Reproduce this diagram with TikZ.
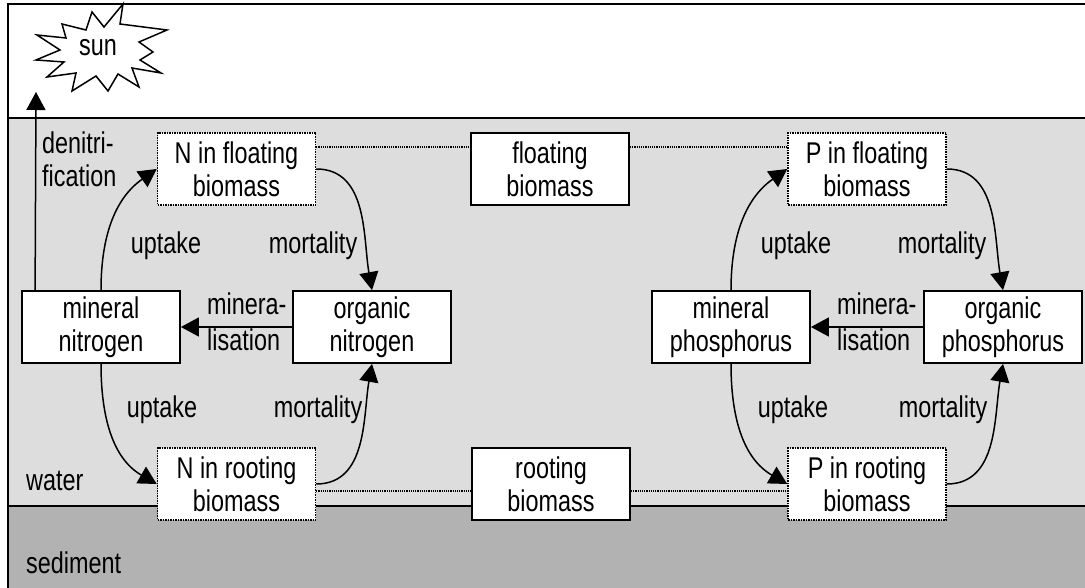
\documentclass[tikz,border=0pt]{standalone}
\usepackage{fontspec}
\setmainfont[FakeStretch=0.78]{Liberation Sans}
\usetikzlibrary{arrows.meta}
\definecolor{waterc}{gray}{0.867}
\definecolor{sedc}{gray}{0.698}
\begin{document}
\begin{tikzpicture}[x=1pt,y=1pt,
  txt/.style={font=\fontsize{30}{33}\selectfont},
  box/.style={txt, draw, line width=1.8pt, fill=white, minimum width=158pt, minimum height=72pt, align=center, inner sep=0pt},
  dbox/.style={box, line width=1.5pt, densely dotted},
  lab/.style={txt, inner sep=0pt, align=left},
  flow/.style={line width=1.5pt, -{Triangle[length=18pt,width=19pt]}},
  link/.style={line width=1.2pt, densely dotted},
  frame/.style={line width=1.8pt}
]
\useasboundingbox (0,0) rectangle (1085,-588);
\clip (0,0) rectangle (1085,-588);
% layers
\fill[white] (8,-4) rectangle (1095,-118);
\fill[waterc] (8,-118) rectangle (1095,-506);
\fill[sedc] (8,-506) rectangle (1095,-600);
\draw[frame] (1095,-4) -- (8,-4) -- (8,-600);
\draw[frame] (8,-118) -- (1095,-118);
\draw[frame] (8,-506) -- (1095,-506);
% sun
\draw[line width=1.5pt, fill=white] (123,-4) -- (120,-24) -- (167,-30) -- (139,-42) -- (153,-52) -- (140,-60) -- (161,-73) -- (132,-68) -- (139,-87) -- (118,-74) -- (108,-91) -- (96,-76) -- (72,-91) -- (76,-73) -- (47,-77) -- (64,-62) -- (36,-60) -- (60,-50) -- (37,-35) -- (66,-38) -- (62,-24) -- (86,-30) -- (92,-12) -- (104,-27) -- cycle;
\node[txt, inner sep=0pt] (sun) at (98,-48) {sun};
\coordinate (sunpt) at (36,-92);
% boxes
\node[dbox] (nfloat) at (236.5,-169) {N in floating\\biomass};
\node[box]  (fbio)   at (550,-169) {floating\\biomass};
\node[dbox] (pfloat) at (867,-169) {P in floating\\biomass};
\node[box]  (minN)   at (101,-327) {mineral\\nitrogen};
\node[box]  (orgN)   at (372,-327) {organic\\nitrogen};
\node[box]  (minP)   at (731,-327) {mineral\\phosphorus};
\node[box]  (orgP)   at (1003,-327) {organic\\phosphorus};
\node[dbox] (nroot)  at (236.5,-484) {N in rooting\\biomass};
\node[box]  (rbio)   at (551,-484) {rooting\\biomass};
\node[dbox] (proot)  at (867,-484) {P in rooting\\biomass};
% dotted links
\draw[link] ([yshift=22pt]nfloat.east) -- ([yshift=22pt]fbio.west);
\draw[link] ([yshift=22pt]fbio.east) -- ([yshift=22pt]pfloat.west);
\draw[link] ([yshift=-7pt]nroot.east) -- ([yshift=-7pt]rbio.west);
\draw[link] ([yshift=-7pt]rbio.east) -- ([yshift=-7pt]proot.west);
% flows nitrogen
\draw[flow] ([xshift=14pt]minN.north west) -- (sunpt);
\draw[flow] (minN.north) to[out=90,in=215] (nfloat.west);
\draw[flow] (nfloat.east) to[out=0,in=100] (orgN.north);
\draw[flow] (orgN.west) -- (minN.east);
\draw[flow] (minN.south) to[out=-90,in=150] (nroot.west);
\draw[flow] (nroot.east) to[out=0,in=-100] (orgN.south);
% flows phosphorus
\draw[flow] (minP.north) to[out=90,in=215] (pfloat.west);
\draw[flow] (pfloat.east) to[out=0,in=100] (orgP.north);
\draw[flow] (orgP.west) -- (minP.east);
\draw[flow] (minP.south) to[out=-90,in=150] (proot.west);
\draw[flow] (proot.east) to[out=0,in=-100] (orgP.south);
% labels
\node[lab, anchor=west] (denit) at (42,-159) {denitri-\\fication};
\node[lab, anchor=base] (upN1) at (166,-254) {uptake};
\node[lab, anchor=base] (moN1) at (313,-254) {mortality};
\node[lab, anchor=west] (minlN) at (207,-322) {minera-\\[3pt]lisation};
\node[lab, anchor=base] (upN2) at (162,-417) {uptake};
\node[lab, anchor=base] (moN2) at (318,-417) {mortality};
\node[lab, anchor=base] (upP1) at (796,-254) {uptake};
\node[lab, anchor=base] (moP1) at (942,-254) {mortality};
\node[lab, anchor=west] (minlP) at (837,-322) {minera-\\[3pt]lisation};
\node[lab, anchor=base] (upP2) at (793,-417) {uptake};
\node[lab, anchor=base] (moP2) at (943,-417) {mortality};
\node[lab, anchor=base west] (water) at (26,-490) {water};
\node[lab, anchor=base west] (sed) at (26,-573) {sediment};
\end{tikzpicture}
\end{document}
